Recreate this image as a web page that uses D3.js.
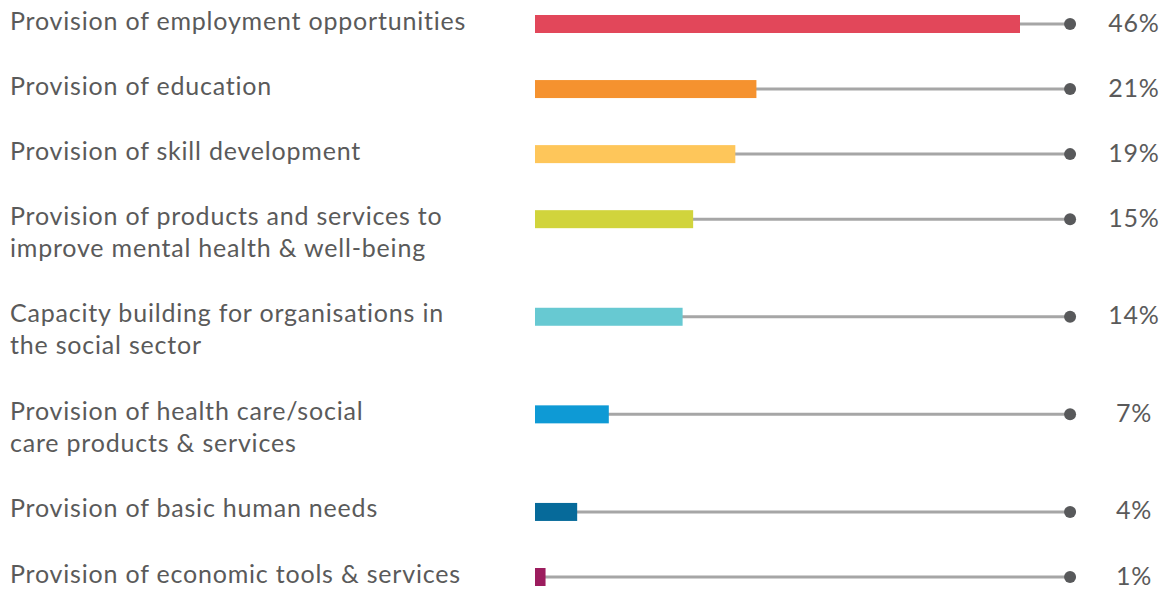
<!DOCTYPE html>
<html>
<head>
<meta charset="utf-8">
<script src="https://cdn.jsdelivr.net/npm/d3@7"></script>
<style>
  body { margin: 0; background: #fff; }
  .label { font-family: Lato, sans-serif; font-size: 25px; letter-spacing: 0.8px; fill: #5a5a5a; }
  .pct { font-family: Lato, sans-serif; font-size: 25px; letter-spacing: 0.8px; fill: #5a5a5a; }
</style>
</head>
<body>
<div class="chart"></div>
<script>
const categories = [
    ["Provision of employment opportunities"],
    ["Provision of education"],
    ["Provision of skill development"],
    ["Provision of products and services to", "improve mental health & well-being"],
    ["Capacity building for organisations in", "the social sector"],
    ["Provision of health care/social", "care products & services"],
    ["Provision of basic human needs"],
    ["Provision of economic tools & services"]
];
const values = [46, 21, 19, 15, 14, 7, 4, 1];
const colors = ["#e2475a", "#f5922f", "#fec65a", "#d1d43c", "#67c9d2", "#0e9ad5", "#066a9a", "#9c1d5e"];
const trackMax = 50.75;

const width = 1171, height = 590;

const svg = d3.select(".chart").append("svg")
    .attr("width", width)
    .attr("height", height);

// each row takes (lines + 1) slots, so two-line labels get more room
let slot = 0;
const rows = categories.map((lines, i) => {
    const r = {lines: lines, value: values[i], color: colors[i], slot: slot};
    slot += lines.length + 1;
    return r;
});

const xScale = d3.scaleLinear()
    .domain([0, 46])
    .range([535, 1020]);

const yScale = d3.scaleLinear()
    .domain([0, 17])
    .range([24, 577]);

const row = svg.selectAll("g.row")
    .data(rows)
    .join("g")
    .attr("class", "row")
    .attr("transform", d => `translate(0,${yScale(d.slot)})`);

// grey track
row.append("line")
    .attr("x1", xScale(0))
    .attr("x2", xScale(trackMax))
    .attr("stroke", "#a6a6a6")
    .attr("stroke-width", 3);

row.append("circle")
    .attr("cx", xScale(trackMax))
    .attr("r", 6)
    .attr("fill", "#58595b");

row.append("rect")
    .attr("x", xScale(0))
    .attr("y", -9)
    .attr("height", 18)
    .attr("width", d => xScale(d.value) - xScale(0))
    .attr("fill", d => d.color);

row.append("text")
    .attr("class", "pct")
    .attr("x", 1134)
    .attr("text-anchor", "middle")
    .attr("dy", "0.3em")
    .text(d => d.value + "%");

const label = row.append("text")
    .attr("class", "label")
    .attr("x", 10)
    .attr("y", -2);

label.selectAll("tspan")
    .data(d => d.lines)
    .join("tspan")
    .attr("x", 10)
    .attr("dy", (d, i) => i == 0 ? "0.3em" : 32)
    .text(d => d);
</script>
</body>
</html>
